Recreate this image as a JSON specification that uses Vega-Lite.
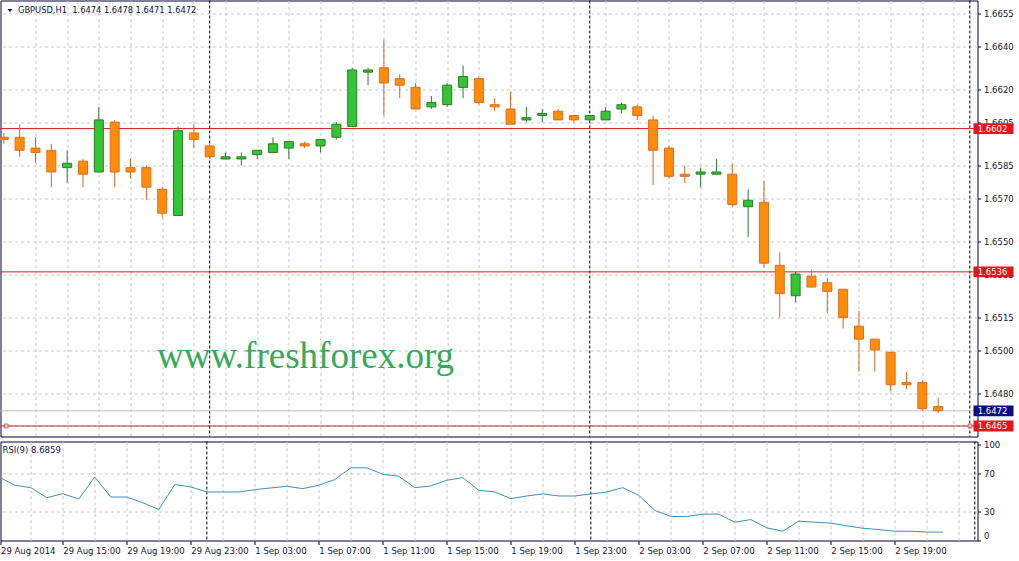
{
  "$schema": "https://vega.github.io/schema/vega-lite/v6.json",
  "padding": {"left": -0.5, "top": -0.5, "right": 0, "bottom": 0},
  "autosize": {"type": "pad"},
  "background": "white",
  "spacing": 2,
  "config": {
    "view": {"stroke": "#000033", "strokeWidth": 1},
    "font": "DejaVu Sans",
    "text": {"font": "DejaVu Sans"},
    "axis": {"labelFont": "DejaVu Sans", "labelFontSize": 8.5, "labelColor": "#141432", "gridColor": "#c8c8c8", "gridDash": [3, 3], "gridWidth": 1, "zindex": 0, "domain": false, "labelOverlap": false, "labelBound": false, "tickCount": 200}
  },
  "datasets": {
    "bars": [
      {"i": -1, "o": 1.6598, "h": 1.6600, "l": 1.6595, "c": 1.6597, "rsi": 66.4},
      {"i": 0, "o": 1.6598, "h": 1.6604, "l": 1.6589, "c": 1.6592, "rsi": 57.7},
      {"i": 1, "o": 1.6593, "h": 1.6598, "l": 1.6586, "c": 1.6591, "rsi": 55.2},
      {"i": 2, "o": 1.6592, "h": 1.6595, "l": 1.6575, "c": 1.6582, "rsi": 44.7},
      {"i": 3, "o": 1.6584, "h": 1.6592, "l": 1.6577, "c": 1.6586, "rsi": 48.9},
      {"i": 4, "o": 1.6587, "h": 1.6588, "l": 1.6575, "c": 1.6581, "rsi": 43.3},
      {"i": 5, "o": 1.6582, "h": 1.6612, "l": 1.6582, "c": 1.6606, "rsi": 66.4},
      {"i": 6, "o": 1.6605, "h": 1.6606, "l": 1.6575, "c": 1.6582, "rsi": 45.4},
      {"i": 7, "o": 1.6584, "h": 1.6588, "l": 1.6579, "c": 1.6582, "rsi": 45.4},
      {"i": 8, "o": 1.6584, "h": 1.6585, "l": 1.6569, "c": 1.6575, "rsi": 39.4},
      {"i": 9, "o": 1.6574, "h": 1.6575, "l": 1.6561, "c": 1.6563, "rsi": 32.4},
      {"i": 10, "o": 1.6562, "h": 1.6603, "l": 1.6562, "c": 1.6601, "rsi": 58.4},
      {"i": 11, "o": 1.6600, "h": 1.6604, "l": 1.6593, "c": 1.6597, "rsi": 55.9},
      {"i": 12, "o": 1.6594, "h": 1.6595, "l": 1.6588, "c": 1.6589, "rsi": 50.7},
      {"i": 13, "o": 1.6588, "h": 1.6591, "l": 1.6588, "c": 1.6589, "rsi": 50.7},
      {"i": 14, "o": 1.6588, "h": 1.6591, "l": 1.6585, "c": 1.6589, "rsi": 50.7},
      {"i": 15, "o": 1.6590, "h": 1.6592, "l": 1.6588, "c": 1.6592, "rsi": 53.1},
      {"i": 16, "o": 1.6591, "h": 1.6598, "l": 1.6591, "c": 1.6595, "rsi": 54.9},
      {"i": 17, "o": 1.6593, "h": 1.6596, "l": 1.6588, "c": 1.6596, "rsi": 56.6},
      {"i": 18, "o": 1.6595, "h": 1.6596, "l": 1.6593, "c": 1.6594, "rsi": 54.2},
      {"i": 19, "o": 1.6594, "h": 1.6597, "l": 1.6591, "c": 1.6597, "rsi": 57.7},
      {"i": 20, "o": 1.6598, "h": 1.6605, "l": 1.6597, "c": 1.6604, "rsi": 63.6},
      {"i": 21, "o": 1.6603, "h": 1.6630, "l": 1.6603, "c": 1.6629, "rsi": 75.9},
      {"i": 22, "o": 1.6628, "h": 1.6630, "l": 1.6622, "c": 1.6629, "rsi": 75.9},
      {"i": 23, "o": 1.6630, "h": 1.6643, "l": 1.6608, "c": 1.6623, "rsi": 69.2},
      {"i": 24, "o": 1.6625, "h": 1.6627, "l": 1.6616, "c": 1.6622, "rsi": 67.1},
      {"i": 25, "o": 1.6621, "h": 1.6623, "l": 1.6611, "c": 1.6611, "rsi": 55.2},
      {"i": 26, "o": 1.6612, "h": 1.6617, "l": 1.6611, "c": 1.6614, "rsi": 57.0},
      {"i": 27, "o": 1.6613, "h": 1.6623, "l": 1.6612, "c": 1.6622, "rsi": 62.9},
      {"i": 28, "o": 1.6621, "h": 1.6631, "l": 1.6616, "c": 1.6626, "rsi": 65.7},
      {"i": 29, "o": 1.6625, "h": 1.6626, "l": 1.6613, "c": 1.6614, "rsi": 52.4},
      {"i": 30, "o": 1.6613, "h": 1.6616, "l": 1.6610, "c": 1.6612, "rsi": 50.7},
      {"i": 31, "o": 1.6611, "h": 1.6619, "l": 1.6604, "c": 1.6604, "rsi": 43.7},
      {"i": 32, "o": 1.6606, "h": 1.6612, "l": 1.6605, "c": 1.6607, "rsi": 46.5},
      {"i": 33, "o": 1.6608, "h": 1.6611, "l": 1.6605, "c": 1.6609, "rsi": 48.6},
      {"i": 34, "o": 1.6610, "h": 1.6611, "l": 1.6606, "c": 1.6606, "rsi": 46.5},
      {"i": 35, "o": 1.6608, "h": 1.6608, "l": 1.6605, "c": 1.6606, "rsi": 46.5},
      {"i": 36, "o": 1.6606, "h": 1.6608, "l": 1.6606, "c": 1.6608, "rsi": 48.6},
      {"i": 37, "o": 1.6606, "h": 1.6612, "l": 1.6606, "c": 1.6610, "rsi": 50.7},
      {"i": 38, "o": 1.6611, "h": 1.6614, "l": 1.6609, "c": 1.6613, "rsi": 55.2},
      {"i": 39, "o": 1.6612, "h": 1.6613, "l": 1.6606, "c": 1.6608, "rsi": 47.2},
      {"i": 40, "o": 1.6606, "h": 1.6608, "l": 1.6576, "c": 1.6592, "rsi": 31.4},
      {"i": 41, "o": 1.6593, "h": 1.6594, "l": 1.6579, "c": 1.6580, "rsi": 25.1},
      {"i": 42, "o": 1.6581, "h": 1.6585, "l": 1.6577, "c": 1.6580, "rsi": 25.1},
      {"i": 43, "o": 1.6581, "h": 1.6584, "l": 1.6575, "c": 1.6582, "rsi": 27.5},
      {"i": 44, "o": 1.6581, "h": 1.6588, "l": 1.6581, "c": 1.6582, "rsi": 27.5},
      {"i": 45, "o": 1.6581, "h": 1.6586, "l": 1.6566, "c": 1.6567, "rsi": 19.1},
      {"i": 46, "o": 1.6566, "h": 1.6574, "l": 1.6552, "c": 1.6569, "rsi": 21.9},
      {"i": 47, "o": 1.6568, "h": 1.6578, "l": 1.6538, "c": 1.6540, "rsi": 13.2},
      {"i": 48, "o": 1.6539, "h": 1.6545, "l": 1.6515, "c": 1.6526, "rsi": 9.7},
      {"i": 49, "o": 1.6525, "h": 1.6536, "l": 1.6522, "c": 1.6535, "rsi": 20.2},
      {"i": 50, "o": 1.6534, "h": 1.6537, "l": 1.6529, "c": 1.6529, "rsi": 19.1},
      {"i": 51, "o": 1.6531, "h": 1.6533, "l": 1.6517, "c": 1.6527, "rsi": 18.1},
      {"i": 52, "o": 1.6528, "h": 1.6528, "l": 1.6510, "c": 1.6515, "rsi": 15.3},
      {"i": 53, "o": 1.6511, "h": 1.6518, "l": 1.6490, "c": 1.6505, "rsi": 12.8},
      {"i": 54, "o": 1.6505, "h": 1.6505, "l": 1.6490, "c": 1.6500, "rsi": 11.4},
      {"i": 55, "o": 1.6499, "h": 1.6499, "l": 1.6481, "c": 1.6484, "rsi": 9.7},
      {"i": 56, "o": 1.6485, "h": 1.6490, "l": 1.6482, "c": 1.6484, "rsi": 9.7},
      {"i": 57, "o": 1.6485, "h": 1.6486, "l": 1.6472, "c": 1.6473, "rsi": 8.8},
      {"i": 58, "o": 1.6474, "h": 1.6478, "l": 1.6471, "c": 1.6472, "rsi": 8.6859}
    ],
    "separators": [{"i": 12}, {"i": 36}, {"i": 60}],
    "levels": [
      {"p": 1.6472, "lbl": "1.6472", "kind": "bid"},
      {"p": 1.6602, "lbl": "1.6602", "kind": "level"},
      {"p": 1.6536, "lbl": "1.6536", "kind": "level"},
      {"p": 1.6465, "lbl": "1.6465", "kind": "level"}
    ],
    "anchors": [{"i": -0.85, "p": 1.6465}, {"i": 60.01, "p": 1.6465}],
    "one": [{"n": 1}]
  },
  "vconcat": [
    {
      "width": 977,
      "height": 436,
      "layer": [
        {
          "data": {"name": "separators"},
          "mark": {"type": "rule", "color": "#000000", "strokeDash": [3, 2], "strokeWidth": 1},
          "encoding": {
            "x": {"field": "i", "type": "quantitative", "scale": {"domain": [-0.894, 60.169], "nice": false, "zero": false},
              "axis": {"title": null, "tickCount": 200, "values": [1, 3, 5, 7, 9, 11, 13, 15, 17, 19, 21, 23, 25, 27, 29, 31, 33, 35, 37, 39, 41, 43, 45, 47, 49, 51, 53, 55, 57, 59], "labels": false, "ticks": false, "grid": true}}
          }
        },
        {
          "data": {"name": "levels"},
          "mark": {"type": "rule", "strokeWidth": 1},
          "encoding": {
            "y": {"field": "p", "type": "quantitative", "scale": {"domain": [1.646016, 1.6661], "nice": false, "zero": false},
              "axis": {"title": null, "orient": "right", "tickCount": 200, "values": [1.6655, 1.664, 1.662, 1.6605, 1.6585, 1.657, 1.655, 1.6535, 1.6515, 1.65, 1.648, 1.6465], "format": ".4f", "grid": true, "ticks": true, "tickSize": 3, "tickColor": "#000033", "labelPadding": 3, "labelAlign": "left"}},
            "color": {"condition": {"test": "datum.kind == 'bid'", "value": "#c0c0c0"}, "value": "#d01e1e"}
          }
        },
        {
          "data": {"name": "anchors"},
          "mark": {"type": "point", "shape": "square", "size": 14, "filled": false, "fill": "white", "stroke": "#c01e1e", "strokeWidth": 1, "clip": true},
          "encoding": {
            "x": {"field": "i", "type": "quantitative", "scale": {"domain": [-0.894, 60.169], "nice": false, "zero": false}},
            "y": {"field": "p", "type": "quantitative", "scale": {"domain": [1.646016, 1.6661], "nice": false, "zero": false}}
          }
        },
        {
          "data": {"name": "one"},
          "mark": {"type": "text", "text": "www.freshforex.org", "font": "Liberation Serif", "fontSize": 37, "color": "#38a85a", "align": "left", "baseline": "alphabetic"},
          "encoding": {
            "x": {"datum": 8.68, "type": "quantitative", "scale": {"domain": [-0.894, 60.169], "nice": false, "zero": false}},
            "y": {"datum": 1.64915, "type": "quantitative", "scale": {"domain": [1.646016, 1.6661], "nice": false, "zero": false}}
          }
        },
        {
          "data": {"name": "bars"},
          "mark": {"type": "rule", "strokeWidth": 1, "clip": true},
          "encoding": {
            "x": {"field": "i", "type": "quantitative", "scale": {"domain": [-0.894, 60.169], "nice": false, "zero": false}},
            "y": {"field": "l", "type": "quantitative", "scale": {"domain": [1.646016, 1.6661], "nice": false, "zero": false}},
            "y2": {"field": "h"},
            "color": {"condition": {"test": "datum.c >= datum.o", "value": "#2b7a2b"}, "value": "#d4661c"}
          }
        },
        {
          "data": {"name": "bars"},
          "mark": {"type": "bar", "width": 9, "strokeWidth": 1, "clip": true},
          "encoding": {
            "x": {"field": "i", "type": "quantitative", "scale": {"domain": [-0.894, 60.169], "nice": false, "zero": false}},
            "y": {"field": "o", "type": "quantitative", "scale": {"domain": [1.646016, 1.6661], "nice": false, "zero": false}},
            "y2": {"field": "c"},
            "fill": {"condition": {"test": "datum.c >= datum.o", "value": "#33c633"}, "value": "#ff8c0a"},
            "stroke": {"condition": {"test": "datum.c >= datum.o", "value": "#2b7a2b"}, "value": "#de6e1e"}
          }
        },
        {
          "data": {"name": "levels"},
          "mark": {"type": "point", "shape": "M-1,-0.27H1V0.27H-1Z", "size": 1600, "filled": true, "opacity": 1, "xOffset": 21, "clip": false},
          "encoding": {
            "x": {"datum": 60.169, "type": "quantitative", "scale": {"domain": [-0.894, 60.169], "nice": false, "zero": false}},
            "y": {"field": "p", "type": "quantitative", "scale": {"domain": [1.646016, 1.6661], "nice": false, "zero": false}},
            "color": {"condition": {"test": "datum.kind == 'bid'", "value": "#0c0c80"}, "value": "#e5141c"}
          }
        },
        {
          "data": {"name": "levels"},
          "mark": {"type": "text", "dx": 20, "align": "center", "baseline": "middle", "font": "DejaVu Sans", "fontSize": 8.5, "color": "white", "clip": false},
          "encoding": {
            "x": {"datum": 60.169, "type": "quantitative", "scale": {"domain": [-0.894, 60.169], "nice": false, "zero": false}},
            "y": {"field": "p", "type": "quantitative", "scale": {"domain": [1.646016, 1.6661], "nice": false, "zero": false}},
            "text": {"field": "lbl"}
          }
        },
        {
          "data": {"name": "one"},
          "mark": {"type": "point", "shape": "M-1,-0.6H1L0,0.6Z", "size": 25, "filled": true, "color": "#101050", "opacity": 1, "xOffset": 4.5, "yOffset": 10},
          "encoding": {
            "x": {"datum": -0.894, "type": "quantitative", "scale": {"domain": [-0.894, 60.169], "nice": false, "zero": false}},
            "y": {"datum": 1.6661, "type": "quantitative", "scale": {"domain": [1.646016, 1.6661], "nice": false, "zero": false}}
          }
        },
        {
          "data": {"name": "one"},
          "mark": {"type": "text", "text": "GBPUSD,H1\u00a0 1.6474 1.6478 1.6471 1.6472", "align": "left", "baseline": "alphabetic", "dx": 12.5, "dy": 12.5, "font": "DejaVu Sans", "fontSize": 8.3, "color": "#101040"},
          "encoding": {
            "x": {"datum": -0.894, "type": "quantitative", "scale": {"domain": [-0.894, 60.169], "nice": false, "zero": false}},
            "y": {"datum": 1.6661, "type": "quantitative", "scale": {"domain": [1.646016, 1.6661], "nice": false, "zero": false}}
          }
        }
      ]
    },
    {
      "width": 977,
      "height": 99,
      "layer": [
        {
          "data": {"name": "separators"},
          "mark": {"type": "rule", "color": "#000000", "strokeDash": [3, 2], "strokeWidth": 1},
          "encoding": {
            "x": {"field": "i", "type": "quantitative", "scale": {"domain": [-0.894, 60.169], "nice": false, "zero": false},
              "axis": {"title": null, "orient": "bottom", "tickCount": 200,
                "values": [-0.894, 1, 3, 5, 7, 9, 11, 13, 15, 17, 19, 21, 23, 25, 27, 29, 31, 33, 35, 37, 39, 41, 43, 45, 47, 49, 51, 53, 55, 57, 59],
                "labelExpr": "datum.value < 0 ? '29 Aug 2014' : (((datum.value + 1) % 4 == 0) && datum.value <= 55) ? ['29 Aug 15:00', '29 Aug 19:00', '29 Aug 23:00', '1 Sep 03:00', '1 Sep 07:00', '1 Sep 11:00', '1 Sep 15:00', '1 Sep 19:00', '1 Sep 23:00', '2 Sep 03:00', '2 Sep 07:00', '2 Sep 11:00', '2 Sep 15:00', '2 Sep 19:00'][(datum.value - 3) / 4] : ''",
                "labelAlign": "left", "labelBaseline": "top", "labelPadding": 2, "labelFlush": false,
                "grid": true,
                "gridOpacity": {"condition": {"test": "datum.value < 0", "value": 0}, "value": 1},
                "ticks": true, "tickSize": 4, "tickColor": "#000033",
                "tickOpacity": {"condition": {"test": "datum.value < 0 || (((datum.value + 1) % 4 == 0) && datum.value <= 55)", "value": 1}, "value": 0}}}
          }
        },
        {
          "data": {"name": "bars"},
          "mark": {"type": "line", "color": "#3e8eba", "strokeWidth": 1, "clip": true},
          "encoding": {
            "x": {"field": "i", "type": "quantitative", "scale": {"domain": [-0.894, 60.169], "nice": false, "zero": false}},
            "y": {"field": "rsi", "type": "quantitative", "scale": {"domain": [0, 103.4], "nice": false, "zero": false},
              "axis": {"title": null, "orient": "right", "tickCount": 200, "values": [0, 30, 70, 100], "format": "d", "labelFlush": true, "labelAlign": "left", "labelPadding": 3, "ticks": true, "tickSize": 3, "tickColor": "#000033",
                "grid": true, "gridOpacity": {"condition": {"test": "datum.value == 30 || datum.value == 70", "value": 1}, "value": 0}}}
          }
        },
        {
          "data": {"name": "one"},
          "mark": {"type": "text", "text": "RSI(9) 8.6859", "align": "left", "baseline": "alphabetic", "dx": 2, "dy": 11, "font": "DejaVu Sans", "fontSize": 8.5, "color": "#101040"},
          "encoding": {
            "x": {"datum": -0.894, "type": "quantitative", "scale": {"domain": [-0.894, 60.169], "nice": false, "zero": false}},
            "y": {"datum": 103.4, "type": "quantitative", "scale": {"domain": [0, 103.4], "nice": false, "zero": false}}
          }
        }
      ]
    }
  ]
}
